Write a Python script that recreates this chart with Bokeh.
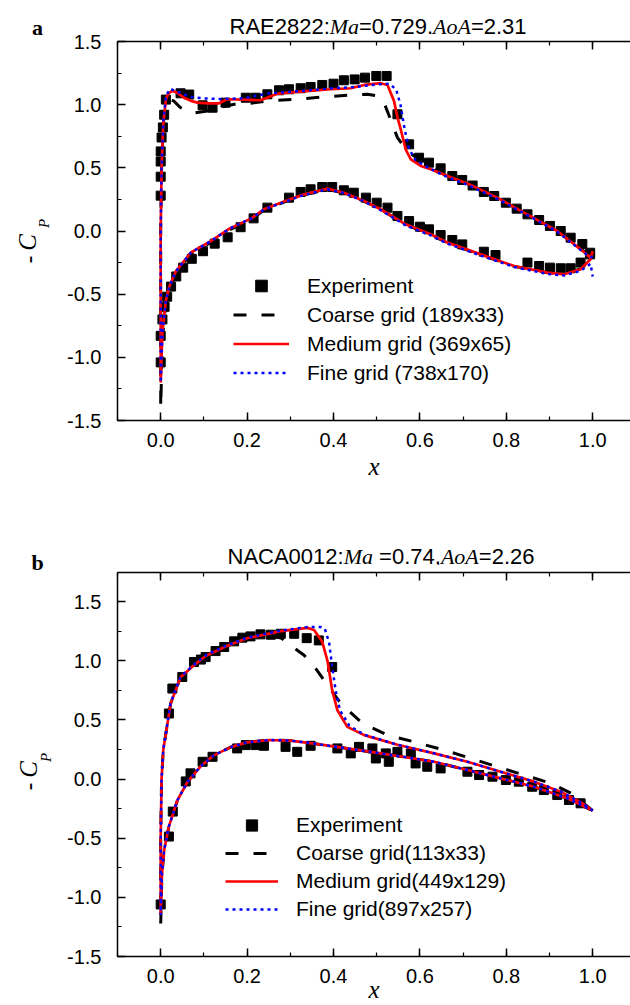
from math import pi
from bokeh.plotting import figure
from bokeh.models import (Label, Legend, LegendItem, LinearAxis, SingleIntervalTicker,
                          NumeralTickFormatter, CustomJSTickFormatter, Range1d)
from bokeh.layouts import column, row
from bokeh.embed import file_html
from bokeh.resources import INLINE

SANS = "Liberation Sans"
SERIF = "Liberation Serif"

# ---------------- Panel a : RAE2822 ----------------
a_exp_up_x = [0.0, 0.0, 0.0, 0.0, 0.002, 0.005, 0.008, 0.012, 0.046, 0.066, 0.097, 0.120, 0.150,
              0.197, 0.220, 0.247, 0.274, 0.297, 0.324, 0.347, 0.374, 0.400, 0.424, 0.449, 0.473,
              0.499, 0.523, 0.548, 0.575, 0.598, 0.621, 0.648, 0.675, 0.698, 0.722, 0.748, 0.772,
              0.799, 0.824, 0.849, 0.876, 0.901, 0.926, 0.949, 0.976, 0.994]
a_exp_up_y = [0.28, 0.43, 0.55, 0.63, 0.74, 0.82, 0.92, 1.04, 1.09, 1.08, 0.995, 0.976, 1.016,
              1.055, 1.055, 1.082, 1.114, 1.122, 1.13, 1.14, 1.156, 1.166, 1.193, 1.20, 1.214,
              1.227, 1.227, 0.924, 0.686, 0.58, 0.541, 0.496, 0.435, 0.404, 0.36, 0.309, 0.277,
              0.224, 0.177, 0.132, 0.087, 0.04, 0.0, -0.053, -0.103, -0.172]
a_exp_lo_x = [0.0, 0.0, 0.004, 0.009, 0.015, 0.024, 0.036, 0.052, 0.072, 0.098, 0.125, 0.155,
              0.185, 0.215, 0.247, 0.297, 0.324, 0.347, 0.374, 0.397, 0.424, 0.447, 0.475, 0.5,
              0.525, 0.548, 0.575, 0.600, 0.621, 0.648, 0.675, 0.698, 0.748, 0.775, 0.849, 0.876,
              0.901, 0.926, 0.949, 0.972, 0.994]
a_exp_lo_y = [-1.04, -0.83, -0.7, -0.6, -0.52, -0.44, -0.36, -0.29, -0.22, -0.16, -0.1, -0.05,
              0.03, 0.1, 0.185, 0.264, 0.309, 0.33, 0.348, 0.348, 0.322, 0.303, 0.264, 0.224,
              0.185, 0.119, 0.079, 0.034, 0.013, -0.032, -0.071, -0.106, -0.164, -0.19, -0.25, -0.277,
              -0.29, -0.295, -0.295, -0.25, -0.185]

a_med_up_x = [0.0, 0.0, 0.0, 0.002, 0.006, 0.012, 0.018, 0.027, 0.04, 0.054, 0.07, 0.085, 0.11,
              0.135, 0.154, 0.19, 0.231, 0.27, 0.33, 0.394, 0.44, 0.471, 0.509, 0.525, 0.54, 0.548,
              0.556, 0.567, 0.579, 0.602, 0.625, 0.664, 0.714, 0.779, 0.841, 0.918, 0.972, 0.995, 1.0]
a_med_up_y = [-1.2, -0.6, 0.0, 0.5, 0.85, 1.04, 1.09, 1.11, 1.09, 1.055, 1.03, 1.016, 1.01,
              1.011, 1.043, 1.04, 1.035, 1.087, 1.105, 1.122, 1.13, 1.156, 1.17, 1.156, 1.03, 0.9,
              0.8, 0.647, 0.567, 0.515, 0.489, 0.435, 0.37, 0.264, 0.145, 0.0, -0.145, -0.211, -0.16]
a_med_lo_x = [0.0, 0.004, 0.012, 0.02, 0.035, 0.07, 0.116, 0.16, 0.21, 0.239, 0.29, 0.332, 0.386,
              0.424, 0.471, 0.509, 0.567, 0.625, 0.664, 0.741, 0.818, 0.895, 0.934, 0.972, 0.995, 1.0]
a_med_lo_y = [-1.2, -0.8, -0.55, -0.44, -0.32, -0.17, -0.08, 0.02, 0.1, 0.172, 0.24, 0.29, 0.335,
              0.303, 0.238, 0.172, 0.053, -0.026, -0.092, -0.185, -0.277, -0.33, -0.343, -0.303, -0.224, -0.16]

a_fine_up_x = [0.0, 0.0, 0.0, 0.002, 0.006, 0.012, 0.022, 0.04, 0.07, 0.1, 0.14, 0.19, 0.25, 0.33,
               0.4, 0.45, 0.5, 0.53, 0.545, 0.555, 0.565, 0.575, 0.59, 0.62, 0.664, 0.714, 0.779,
               0.841, 0.918, 0.972, 0.995, 1.0]
a_fine_up_y = [-1.2, -0.6, 0.0, 0.5, 0.86, 1.07, 1.125, 1.1, 1.06, 1.05, 1.045, 1.05, 1.09, 1.11,
               1.13, 1.14, 1.16, 1.165, 1.12, 1.0, 0.8, 0.65, 0.56, 0.5, 0.425, 0.36, 0.255,
               0.14, -0.005, -0.15, -0.21, -0.2]
a_fine_lo_x = [0.0, 0.004, 0.012, 0.02, 0.035, 0.07, 0.116, 0.16, 0.21, 0.239, 0.29, 0.332, 0.386,
               0.424, 0.471, 0.509, 0.567, 0.625, 0.664, 0.741, 0.818, 0.895, 0.934, 0.972, 0.995, 1.0]
a_fine_lo_y = [-1.2, -0.8, -0.55, -0.44, -0.32, -0.17, -0.08, 0.02, 0.1, 0.17, 0.235, 0.285, 0.33,
               0.3, 0.235, 0.165, 0.045, -0.035, -0.1, -0.195, -0.285, -0.34, -0.352, -0.315, -0.26, -0.36]

a_coarse_up_x = [0.0, 0.0, 0.0, 0.002, 0.006, 0.012, 0.02, 0.03, 0.046, 0.073, 0.108, 0.135, 0.17,
                 0.2, 0.247, 0.316, 0.378, 0.44, 0.478, 0.502, 0.517, 0.532, 0.548, 0.571, 0.6,
                 0.625, 0.664, 0.714, 0.779, 0.841, 0.918, 0.972, 1.0]
a_coarse_up_y = [-1.4, -0.6, 0.0, 0.5, 0.85, 1.0, 1.04, 1.03, 0.976, 0.932, 0.95, 0.976, 1.003,
                 1.008, 1.03, 1.043, 1.061, 1.077, 1.082, 1.069, 1.016, 0.884, 0.739, 0.633, 0.56,
                 0.5, 0.435, 0.37, 0.264, 0.145, 0.0, -0.145, -0.2]
a_coarse_lo_x = [0.0, 0.004, 0.012, 0.02, 0.035, 0.07, 0.116, 0.16, 0.21, 0.239, 0.29, 0.332, 0.386,
                 0.424, 0.471, 0.509, 0.567, 0.625, 0.664, 0.741, 0.818, 0.895, 0.934, 0.972, 1.0]
a_coarse_lo_y = [-1.4, -0.85, -0.57, -0.46, -0.33, -0.18, -0.09, 0.01, 0.09, 0.165, 0.235, 0.285, 0.33,
                 0.3, 0.235, 0.17, 0.05, -0.03, -0.095, -0.19, -0.28, -0.33, -0.34, -0.3, -0.2]

a_labels = ["Experiment", "Coarse grid (189x33)", "Medium grid (369x65)", "Fine grid (738x170)"]

# ---------------- Panel b : NACA0012 ----------------
b_exp_up_x = [0.019, 0.027, 0.05, 0.077, 0.093, 0.104, 0.127, 0.147, 0.17, 0.189, 0.208, 0.231,
              0.255, 0.278, 0.309, 0.338, 0.366, 0.397, 0.459, 0.49, 0.521, 0.548, 0.579]
b_exp_up_y = [0.554, 0.765, 0.863, 0.989, 1.01, 1.031, 1.082, 1.116, 1.164, 1.195, 1.206, 1.223,
              1.22, 1.228, 1.228, 1.191, 1.172, 0.947, 0.272, 0.259, 0.217, 0.23, 0.217]
b_exp_lo_x = [0.0, 0.019, 0.028, 0.058, 0.069, 0.097, 0.12, 0.177, 0.197, 0.22, 0.239, 0.289,
              0.316, 0.347, 0.409, 0.44, 0.498, 0.528, 0.59, 0.617, 0.648, 0.71, 0.737, 0.768,
              0.799, 0.829, 0.86, 0.887, 0.918, 0.945, 0.972]
b_exp_lo_y = [-1.06, -0.486, -0.275, -0.02, 0.048, 0.146, 0.188, 0.259, 0.287, 0.287, 0.281, 0.272,
              0.23, 0.281, 0.259, 0.217, 0.174, 0.146, 0.132, 0.104, 0.09, 0.062, 0.034, 0.02,
              -0.008, -0.022, -0.065, -0.093, -0.135, -0.177, -0.205]

b_med_up_x = [0.0, 0.0, 0.002, 0.006, 0.012, 0.023, 0.046, 0.073, 0.104, 0.15, 0.2, 0.278, 0.34,
              0.355, 0.374, 0.386, 0.397, 0.409, 0.432, 0.471, 0.548, 0.633, 0.71, 0.787, 0.864,
              0.926, 0.976, 1.0]
b_med_up_y = [-1.15, -0.5, 0.0, 0.25, 0.385, 0.638, 0.86, 0.95, 1.04, 1.12, 1.19, 1.25, 1.278,
              1.26, 1.16, 1.0, 0.75, 0.582, 0.441, 0.371, 0.29, 0.217, 0.146, 0.062, -0.022,
              -0.107, -0.205, -0.267]
b_med_lo_x = [0.0, 0.003, 0.008, 0.019, 0.039, 0.062, 0.093, 0.123, 0.162, 0.2, 0.25, 0.3, 0.355,
              0.432, 0.509, 0.586, 0.633, 0.71, 0.787, 0.864, 0.941, 1.0]
b_med_lo_y = [-1.15, -0.8, -0.6, -0.4, -0.177, -0.023, 0.11, 0.2, 0.27, 0.31, 0.33, 0.325, 0.3,
              0.259, 0.217, 0.174, 0.146, 0.076, 0.006, -0.065, -0.163, -0.267]

b_fine_up_x = [0.0, 0.0, 0.002, 0.006, 0.012, 0.023, 0.046, 0.073, 0.104, 0.15, 0.2, 0.278, 0.34,
               0.37, 0.38, 0.39, 0.397, 0.405, 0.415, 0.437, 0.471, 0.548, 0.633, 0.71, 0.787, 0.864,
               0.926, 0.976, 1.0]
b_fine_up_y = [-1.15, -0.5, 0.0, 0.25, 0.39, 0.645, 0.865, 0.955, 1.045, 1.125, 1.195, 1.255, 1.285,
               1.285, 1.27, 1.15, 0.95, 0.75, 0.58, 0.45, 0.375, 0.29, 0.217, 0.146, 0.062, -0.022,
               -0.107, -0.205, -0.267]

b_coarse_up_x = [0.0, 0.0, 0.002, 0.006, 0.012, 0.023, 0.046, 0.073, 0.104, 0.15, 0.2, 0.25, 0.28,
                 0.301, 0.332, 0.359, 0.378, 0.417, 0.467, 0.525, 0.586, 0.656, 0.718, 0.779, 0.841,
                 0.903, 0.95, 1.0]
b_coarse_up_y = [-1.22, -0.5, 0.0, 0.25, 0.385, 0.638, 0.86, 0.95, 1.04, 1.12, 1.19, 1.22, 1.19,
                 1.13, 1.046, 0.933, 0.835, 0.638, 0.47, 0.371, 0.315, 0.245, 0.174, 0.104, 0.034,
                 -0.036, -0.12, -0.267]
b_coarse_lo_y = [-1.22, -0.8, -0.6, -0.4, -0.177, -0.023, 0.11, 0.2, 0.27, 0.31, 0.33, 0.325, 0.3,
                 0.259, 0.217, 0.174, 0.146, 0.076, 0.006, -0.065, -0.163, -0.267]

b_labels = ["Experiment", "Coarse grid(113x33)", "Medium grid(449x129)", "Fine grid(897x257)"]


def loop(ux, uy, lx, ly):
    """Join upper surface (reversed, TE->LE) and lower surface (LE->TE) into one path."""
    return list(ux[::-1]) + list(lx[1:]), list(uy[::-1]) + list(ly[1:])


PAGE_W, PAGE_H = 630, 1005
STRIP_W = 60                 # left strip holding panel letters and y labels
MAIN_W = PAGE_W - STRIP_W
BORDER_L = 57                # frame left edge at page x = 117


def text_fig(w, h, left=0):
    f = figure(width=w, height=h, output_backend="svg", toolbar_location=None,
               x_range=Range1d(left, w), y_range=Range1d(0, h), x_axis_type=None, y_axis_type=None,
               min_border=0, min_border_left=left, outline_line_color=None,
               background_fill_color="white", border_fill_color="white")
    f.title.visible = False
    f.xgrid.visible = False
    f.ygrid.visible = False
    return f


def add_text(f, x, y, txt, font, size, style="normal", align="left", baseline="alphabetic", angle=0.0):
    f.add_layout(Label(x=x, y=y, text=txt, text_font=font, text_font_size=size,
                       text_font_style=style, text_align=align, text_baseline=baseline,
                       angle=angle, text_color="black"))


def style_axis(ax, ticker, labels_on=True):
    ax.ticker = ticker
    ax.axis_line_width = 1.5
    ax.axis_line_color = "black"
    ax.major_tick_in = 8
    ax.major_tick_out = 0
    ax.minor_tick_in = 4
    ax.minor_tick_out = 0
    ax.major_tick_line_width = 1.5
    ax.minor_tick_line_width = 1.2
    ax.major_tick_line_color = "black"
    ax.minor_tick_line_color = "black"
    ax.major_label_text_font = SANS
    if labels_on:
        ax.major_label_text_color = "black"
        ax.major_label_text_font_size = "20px"
        ax.formatter = NumeralTickFormatter(format="0.0")
    else:
        # mirrored axis: ticks only, no label text drawn
        ax.major_label_text_color = None
        ax.major_label_text_font_size = "0px"
        ax.formatter = CustomJSTickFormatter(code="return ''")
        ax.major_label_standoff = 0


def main_fig(height, top, bottom, ymax, exp, coarse, med, fine, labels, legend_loc, glyph_w,
             item_h, xlab_standoff):
    p = figure(width=MAIN_W, height=height, output_backend="svg", toolbar_location=None,
               x_range=Range1d(-0.1, -0.1 + (MAIN_W - BORDER_L) / 432.0),
               y_range=Range1d(-1.5, ymax),
               min_border_left=BORDER_L, min_border_right=0, min_border_top=top,
               min_border_bottom=bottom, outline_line_color=None,
               background_fill_color="white", border_fill_color="white")
    p.title.visible = False
    p.xgrid.visible = False
    p.ygrid.visible = False

    style_axis(p.xaxis[0], SingleIntervalTicker(interval=0.2, num_minor_ticks=2))
    p.xaxis[0].major_label_standoff = 12
    p.xaxis[0].axis_label = "x"
    p.xaxis[0].axis_label_text_font = SERIF
    p.xaxis[0].axis_label_text_font_style = "italic"
    p.xaxis[0].axis_label_text_font_size = "25px"
    p.xaxis[0].axis_label_text_color = "black"
    p.xaxis[0].axis_label_standoff = xlab_standoff
    style_axis(p.yaxis[0], SingleIntervalTicker(interval=0.5, num_minor_ticks=2))
    p.yaxis[0].major_label_standoff = 16
    top_ax = LinearAxis()
    style_axis(top_ax, SingleIntervalTicker(interval=0.2, num_minor_ticks=2), labels_on=False)
    p.add_layout(top_ax, "above")

    ex_x, ex_y = exp
    r_exp = p.scatter(ex_x, ex_y, marker="square", size=9, color="black")
    cx, cy = coarse
    r_c = p.line(cx, cy, line_color="black", line_width=3, line_dash="13 15")
    mx, my = med
    r_m = p.line(mx, my, line_color="red", line_width=2.7)
    fx, fy = fine
    r_f = p.line(fx, fy, line_color="blue", line_width=2.5, line_dash="3 4")

    leg = Legend(items=[LegendItem(label=labels[0], renderers=[r_exp]),
                        LegendItem(label=labels[1], renderers=[r_c]),
                        LegendItem(label=labels[2], renderers=[r_m]),
                        LegendItem(label=labels[3], renderers=[r_f])],
                 location=legend_loc, glyph_width=glyph_w, glyph_height=item_h,
                 label_height=item_h, spacing=0, padding=0, margin=0, label_standoff=18,
                 border_line_color=None, background_fill_alpha=0,
                 label_text_font=SANS, label_text_font_size="21px", label_text_color="black")
    p.add_layout(leg)
    return p


def title_fig(h, parts, start_x, baseline_from_top):
    # frame spans canvas x in [BORDER_L, MAIN_W] with the same data range -> 1:1 pixels
    f = text_fig(MAIN_W, h, left=BORDER_L)
    x0 = start_x - STRIP_W
    for txt, font, style_, w in parts:
        add_text(f, x0, h - baseline_from_top, txt, font, "22px", style=style_)
        x0 += w
    return f


title_a = [("RAE2822:", SANS, "normal", 100.2), ("Ma", SERIF, "italic", 29.3),
           ("=0.729,", SANS, "normal", 74.0), ("AoA", SERIF, "italic", 37.9),
           ("=2.31", SANS, "normal", 55.7)]
title_b = [("NACA0012:", SANS, "normal", 116.2), ("Ma", SERIF, "italic", 35.4),
           ("=0.74,", SANS, "normal", 61.8), ("AoA", SERIF, "italic", 37.9),
           ("=2.26", SANS, "normal", 55.7)]

# panel a: header 0-34, plot 34-490 (frame 41-420)
head_a = title_fig(34, title_a, 229, 26)
pa = main_fig(456, 7, 70, 1.5,
              (a_exp_up_x + a_exp_lo_x, a_exp_up_y + a_exp_lo_y),
              loop(a_coarse_up_x, a_coarse_up_y, a_coarse_lo_x, a_coarse_lo_y),
              loop(a_med_up_x, a_med_up_y, a_med_lo_x, a_med_lo_y),
              loop(a_fine_up_x, a_fine_up_y, a_fine_lo_x, a_fine_lo_y),
              a_labels, (116, 33), 56, 29, 3)

# panel b: header 490-565, plot 565-1005 (frame 572-957)
head_b = title_fig(75, title_b, 227, 556 - 490)
pb = main_fig(440, 7, 48, 1.746,
              (b_exp_up_x + b_exp_lo_x, b_exp_up_y + b_exp_lo_y),
              loop(b_coarse_up_x, b_coarse_up_y, b_med_lo_x, b_coarse_lo_y),
              loop(b_med_up_x, b_med_up_y, b_med_lo_x, b_med_lo_y),
              loop(b_fine_up_x, b_fine_up_y, b_med_lo_x, b_med_lo_y),
              b_labels, (108, 33), 53, 28, -10)

# left strip: panel letters and rotated -C_P labels (page coordinates, y measured from top)
strip = text_fig(STRIP_W, PAGE_H)
def Y(py):
    return PAGE_H - py
add_text(strip, 37, Y(27), "a", SERIF, "22px", style="bold", align="center")
add_text(strip, 37, Y(562), "b", SERIF, "22px", style="bold", align="center")
for (mx_, my_), (cx_, cy_), (px_, py_) in [((28, 259), (27, 242), (43, 223)),
                                           ((28, 786), (28, 769), (45, 757))]:
    add_text(strip, mx_, Y(my_), "-", SANS, "24px", align="center", baseline="middle", angle=pi / 2)
    add_text(strip, cx_, Y(cy_), "C", SERIF, "25px", style="italic", align="center",
             baseline="middle", angle=pi / 2)
    add_text(strip, px_, Y(py_), "P", SERIF, "15px", style="italic", align="center",
             baseline="middle", angle=pi / 2)

layout = row(strip, column(head_a, pa, head_b, pb, spacing=0), spacing=0)
open("out.html", "w").write(file_html(layout, INLINE))
